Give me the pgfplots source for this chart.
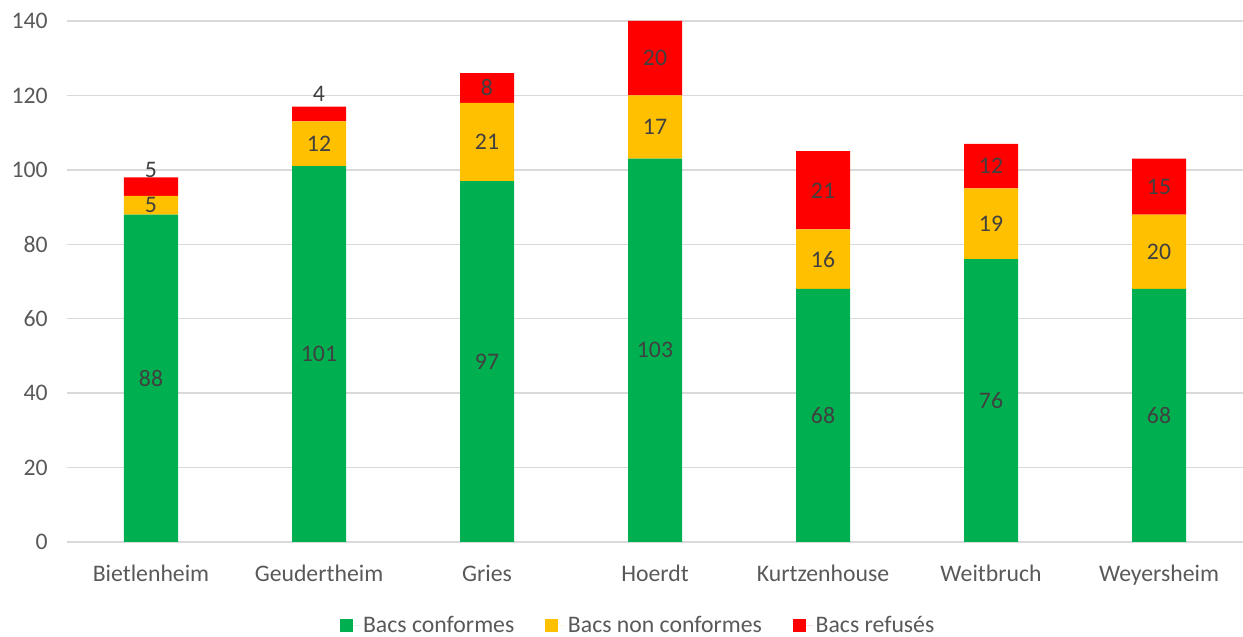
\documentclass[border=0pt]{standalone}
\usepackage{pgfplots}
\pgfplotsset{compat=1.18}
\usepackage{pgfplotstable}
\usepackage{fontspec}
\setmainfont{Carlito}
\definecolor{cg}{HTML}{00B050}
\definecolor{cy}{HTML}{FFC000}
\definecolor{cr}{HTML}{FF0000}
\definecolor{gridc}{HTML}{D9D9D9}
\definecolor{tickc}{HTML}{595959}
\definecolor{labc}{HTML}{404040}
\newcommand\cf{\fontsize{17.8}{21}\selectfont}
\pgfplotstableread{
x name g y r ro
0 Bietlenheim 88 5 5 4.5
1 Geudertheim 101 12 4 5.4
2 Gries 97 21 8 0
3 Hoerdt 103 17 20 0
4 Kurtzenhouse 68 16 21 0
5 Weitbruch 76 19 12 0
6 Weyersheim 68 20 15 0
}\data
\begin{document}
\begin{tikzpicture}
\begin{axis}[
  scale only axis, width=882pt, height=390.75pt,
  xmin=-0.5, xmax=6.5, ymin=0, ymax=140,
  ybar stacked, bar width=40.5pt,
  xtick=data,
  xticklabels={Bietlenheim,Geudertheim,Gries,Hoerdt,Kurtzenhouse,Weitbruch,Weyersheim},
  ytick={0,20,...,140},
  ymajorgrids, grid style={gridc, line width=1pt},
  axis x line*=bottom, axis y line*=left,
  x axis line style={gridc, line width=1pt, -},
  y axis line style={draw=none},
  major tick length=0pt,
  tick label style={font=\cf, text=tickc},
  /pgf/number format/assume math mode=true,
  yticklabel style={xshift=-11pt},
  xticklabel style={yshift=-14pt},
  legend style={at={(axis description cs:0.486,0)}, anchor=center, yshift=-62.5pt,
    draw=none, fill=none, font=\cf, text=tickc, legend columns=3,
    /tikz/every even column/.append style={column sep=21pt}},
  legend image code/.code={\fill[#1] (0pt,-5pt) rectangle (10pt,5pt);
    \path (0pt,0pt) -- (15.25pt,0pt);},
  every node near coord/.append style={font=\cf, text=labc, anchor=center},
]
\addplot[fill=cg, draw=none, nodes near coords]
  table[x=x, y=g] {\data};
\addplot[fill=cy, draw=none, nodes near coords]
  table[x=x, y=y] {\data};
\addplot[fill=cr, draw=none, nodes near coords,
  visualization depends on={\thisrow{ro} \as \o},
  every node near coord/.append style={shift={(axis direction cs:0,\o)}}]
  table[x=x, y=r] {\data};
\legend{Bacs conformes, Bacs non conformes, Bacs refusés}
\end{axis}
\path (current axis.south west) ++(-50.25pt,-71.25pt) coordinate (bbA);
\path (current axis.north east) ++(0pt,15.75pt) coordinate (bbB);
\pgfresetboundingbox
\path (bbA) rectangle (bbB);
\end{tikzpicture}
\end{document}
